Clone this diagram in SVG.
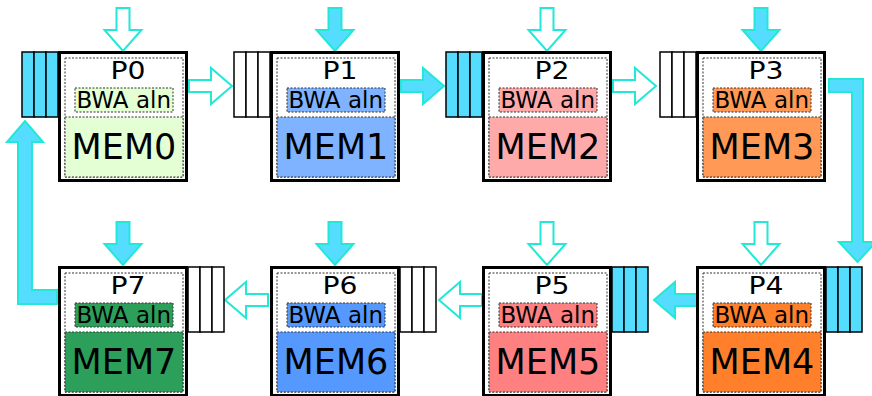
<svg xmlns="http://www.w3.org/2000/svg" xmlns:xlink="http://www.w3.org/1999/xlink" width="872" height="396" viewBox="0 0 872 396">
<style>
  .outer{fill:#fff;stroke:#000;stroke-width:3}
  .inner{fill:#fff;stroke:#333;stroke-width:1;stroke-dasharray:2,1.5}
  .dash{stroke:#333;stroke-width:1;stroke-dasharray:2,1.5}
  .q{stroke:#000;stroke-width:1.5}
  .qf{fill:#55ddff}
  .qe{fill:#fff}
  .af{fill:#55ddff;stroke:#22e8d8;stroke-width:2;stroke-linejoin:miter}
  .ah{fill:#fff;stroke:#22e8d8;stroke-width:2;stroke-linejoin:miter}
  text{font-family:"DejaVu Sans","Liberation Sans",sans-serif;fill:#000;text-anchor:middle}
  .tp{font-size:25px}
  .tb{font-size:23px}
  .tm{font-size:35px}
</style>
<defs>
  <path id="adown" d="M-6.5,0 H6.5 V22 H18.5 L0,43 L-18.5,22 H-6.5 Z"/>
  <path id="aright" d="M0,-6 H22 V-18 L43,0 L22,18 V6 H0 Z"/>
</defs>

<g id="connectors">
  <use xlink:href="#adown" class="ah" transform="translate(123,8)"/>
  <use xlink:href="#adown" class="af" transform="translate(335,8)"/>
  <use xlink:href="#adown" class="ah" transform="translate(547,8)"/>
  <use xlink:href="#adown" class="af" transform="translate(761,8)"/>
  <use xlink:href="#adown" class="af" transform="translate(123,222)"/>
  <use xlink:href="#adown" class="af" transform="translate(335,222)"/>
  <use xlink:href="#adown" class="ah" transform="translate(547,222)"/>
  <use xlink:href="#adown" class="ah" transform="translate(761,222)"/>
  <use xlink:href="#aright" class="ah" transform="translate(189,86)"/>
  <use xlink:href="#aright" class="af" transform="translate(401,86)"/>
  <use xlink:href="#aright" class="ah" transform="translate(613,86)"/>
  <polygon class="af" points="829,79 863,79 863,242 876,242 857.5,262 839,242 852,242 852,92 829,92"/>
  <use xlink:href="#aright" class="af" transform="translate(697,300) scale(-1,1)"/>
  <use xlink:href="#aright" class="ah" transform="translate(482,300) scale(-1,1)"/>
  <use xlink:href="#aright" class="ah" transform="translate(268,300) scale(-1,1)"/>
  <polygon class="af" points="57,290 32,290 32,142 43,142 25,121 7,142 18,142 18,304 57,304"/>
</g>

<g id="p0" transform="translate(59,52)">
  <rect class="q qf" x="-37" y="0" width="12" height="65"/><rect class="q qf" x="-25" y="0" width="12" height="65"/><rect class="q qf" x="-13" y="0" width="12" height="65"/>
  <rect class="outer" x="0.5" y="0.5" width="127" height="128"/>
  <rect class="inner" x="6" y="6" width="118" height="119"/>
  <rect class="dash" fill="#e5ffd5" x="6" y="65" width="118" height="60"/>
  <rect class="dash" fill="#e5ffd5" x="16" y="36" width="98" height="24"/>
  <text class="tp" x="69" y="26.5" textLength="35" lengthAdjust="spacingAndGlyphs">P0</text>
  <text class="tb" x="64.7" y="56.3">BWA aln</text>
  <text class="tm" x="65" y="107">MEM0</text>
</g>
<g id="p1" transform="translate(271,52)">
  <rect class="q qe" x="-37" y="0" width="12" height="65"/><rect class="q qe" x="-25" y="0" width="12" height="65"/><rect class="q qe" x="-13" y="0" width="12" height="65"/>
  <rect class="outer" x="0.5" y="0.5" width="127" height="128"/>
  <rect class="inner" x="6" y="6" width="118" height="119"/>
  <rect class="dash" fill="#80b3ff" x="6" y="65" width="118" height="60"/>
  <rect class="dash" fill="#80b3ff" x="16" y="36" width="98" height="24"/>
  <text class="tp" x="69" y="26.5" textLength="35" lengthAdjust="spacingAndGlyphs">P1</text>
  <text class="tb" x="64.7" y="56.3">BWA aln</text>
  <text class="tm" x="65" y="107">MEM1</text>
</g>
<g id="p2" transform="translate(483,52)">
  <rect class="q qf" x="-37" y="0" width="12" height="65"/><rect class="q qf" x="-25" y="0" width="12" height="65"/><rect class="q qf" x="-13" y="0" width="12" height="65"/>
  <rect class="outer" x="0.5" y="0.5" width="127" height="128"/>
  <rect class="inner" x="6" y="6" width="118" height="119"/>
  <rect class="dash" fill="#ffaaaa" x="6" y="65" width="118" height="60"/>
  <rect class="dash" fill="#ffaaaa" x="16" y="36" width="98" height="24"/>
  <text class="tp" x="69" y="26.5" textLength="35" lengthAdjust="spacingAndGlyphs">P2</text>
  <text class="tb" x="64.7" y="56.3">BWA aln</text>
  <text class="tm" x="65" y="107">MEM2</text>
</g>
<g id="p3" transform="translate(697,52)">
  <rect class="q qe" x="-37" y="0" width="12" height="65"/><rect class="q qe" x="-25" y="0" width="12" height="65"/><rect class="q qe" x="-13" y="0" width="12" height="65"/>
  <rect class="outer" x="0.5" y="0.5" width="127" height="128"/>
  <rect class="inner" x="6" y="6" width="118" height="119"/>
  <rect class="dash" fill="#ff9955" x="6" y="65" width="118" height="60"/>
  <rect class="dash" fill="#ff9955" x="16" y="36" width="98" height="24"/>
  <text class="tp" x="69" y="26.5" textLength="35" lengthAdjust="spacingAndGlyphs">P3</text>
  <text class="tb" x="64.7" y="56.3">BWA aln</text>
  <text class="tm" x="65" y="107">MEM3</text>
</g>
<g id="p4" transform="translate(697,267)">
  <rect class="q qf" x="129" y="0" width="12" height="65"/><rect class="q qf" x="141" y="0" width="12" height="65"/><rect class="q qf" x="153" y="0" width="12" height="65"/>
  <rect class="outer" x="0.5" y="0.5" width="127" height="128"/>
  <rect class="inner" x="6" y="6" width="118" height="119"/>
  <rect class="dash" fill="#ff7f2a" x="6" y="65" width="118" height="60"/>
  <rect class="dash" fill="#ff7f2a" x="16" y="36" width="98" height="24"/>
  <text class="tp" x="69" y="26.5" textLength="35" lengthAdjust="spacingAndGlyphs">P4</text>
  <text class="tb" x="64.7" y="56.3">BWA aln</text>
  <text class="tm" x="65" y="107">MEM4</text>
</g>
<g id="p5" transform="translate(483,267)">
  <rect class="q qf" x="129" y="0" width="12" height="65"/><rect class="q qf" x="141" y="0" width="12" height="65"/><rect class="q qf" x="153" y="0" width="12" height="65"/>
  <rect class="outer" x="0.5" y="0.5" width="127" height="128"/>
  <rect class="inner" x="6" y="6" width="118" height="119"/>
  <rect class="dash" fill="#ff8080" x="6" y="65" width="118" height="60"/>
  <rect class="dash" fill="#ff8080" x="16" y="36" width="98" height="24"/>
  <text class="tp" x="69" y="26.5" textLength="35" lengthAdjust="spacingAndGlyphs">P5</text>
  <text class="tb" x="64.7" y="56.3">BWA aln</text>
  <text class="tm" x="65" y="107">MEM5</text>
</g>
<g id="p6" transform="translate(271,267)">
  <rect class="q qe" x="129" y="0" width="12" height="65"/><rect class="q qe" x="141" y="0" width="12" height="65"/><rect class="q qe" x="153" y="0" width="12" height="65"/>
  <rect class="outer" x="0.5" y="0.5" width="127" height="128"/>
  <rect class="inner" x="6" y="6" width="118" height="119"/>
  <rect class="dash" fill="#5599ff" x="6" y="65" width="118" height="60"/>
  <rect class="dash" fill="#5599ff" x="16" y="36" width="98" height="24"/>
  <text class="tp" x="69" y="26.5" textLength="35" lengthAdjust="spacingAndGlyphs">P6</text>
  <text class="tb" x="64.7" y="56.3">BWA aln</text>
  <text class="tm" x="65" y="107">MEM6</text>
</g>
<g id="p7" transform="translate(59,267)">
  <rect class="q qe" x="129" y="0" width="12" height="65"/><rect class="q qe" x="141" y="0" width="12" height="65"/><rect class="q qe" x="153" y="0" width="12" height="65"/>
  <rect class="outer" x="0.5" y="0.5" width="127" height="128"/>
  <rect class="inner" x="6" y="6" width="118" height="119"/>
  <rect class="dash" fill="#2ca05a" x="6" y="65" width="118" height="60"/>
  <rect class="dash" fill="#2ca05a" x="16" y="36" width="98" height="24"/>
  <text class="tp" x="69" y="26.5" textLength="35" lengthAdjust="spacingAndGlyphs">P7</text>
  <text class="tb" x="64.7" y="56.3">BWA aln</text>
  <text class="tm" x="65" y="107">MEM7</text>
</g>
</svg>
